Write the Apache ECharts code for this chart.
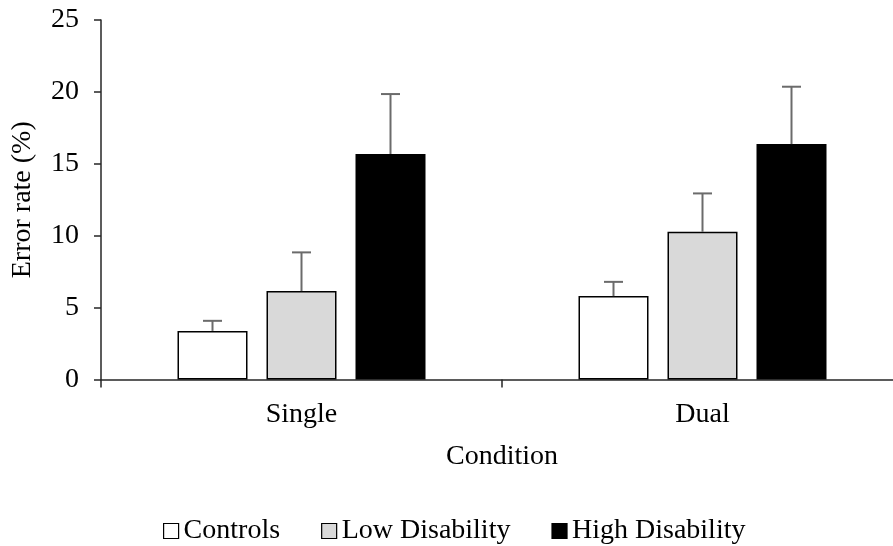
<!DOCTYPE html>
<html>
<head>
<meta charset="utf-8">
<script src="https://cdn.jsdelivr.net/npm/echarts@6/dist/echarts.min.js"></script>
<style>
    html, body {margin: 0; padding: 0; background: #fff;}
    #errorrate {width: 893px; height: 546px;}
</style>
</head>
<body>
<div id="errorrate"></div>
<script>
// data
var categories = ['Single', 'Dual'];
var groups = ['Controls', 'Low Disability', 'High Disability'];
var controls = [3.38, 5.80];
var lowDis = [6.15, 10.27];
var highDis = [15.68, 16.37];
var controlsErr = [0.70, 0.99];
var lowDisErr = [2.69, 2.67];
var highDisErr = [4.17, 3.99];
var yTicks = [0, 5, 10, 15, 20, 25];

var fills = ['#ffffff', '#d9d9d9', '#000000'];
var values = [controls, lowDis, highDis];
var errs = [controlsErr, lowDisErr, highDisErr];

var barW = 70;
var barGapPx = 19;
var fontName = '"Liberation Serif", "Times New Roman", serif';

var myChart = echarts.init(document.getElementById('errorrate'));

var series = [];
// bars
for (var i = 0; i < groups.length; i++) {
    series.push({
        name: groups[i],
        type: 'bar',
        barWidth: barW,
        barGap: (barGapPx / barW * 100) + '%',
        itemStyle: {color: fills[i], borderColor: '#000', borderWidth: 1.5},
        data: values[i]
    });
}
// error bars (upper whisker only)
for (var j = 0; j < groups.length; j++) {
    var errData = [];
    for (var k = 0; k < categories.length; k++) {
        errData.push([k, values[j][k], values[j][k] + errs[j][k]]);
    }
    series.push({
        type: 'custom',
        z: 5,
        silent: true,
        renderItem: (function (idx) {
            return function (params, api) {
                var base = api.coord([api.value(0), api.value(1)]);
                var top = api.coord([api.value(0), api.value(2)]);
                var x = base[0] + (idx - 1) * (barW + barGapPx);
                var style = {stroke: '#6b6b6b', lineWidth: 2};
                return {
                    type: 'group',
                    children: [
                        {type: 'line', shape: {x1: x, y1: base[1], x2: x, y2: top[1]}, style: style},
                        {type: 'line', shape: {x1: x - 9.5, y1: top[1], x2: x + 9.5, y2: top[1]}, style: style}
                    ]
                };
            };
        })(j),
        encode: {x: 0, y: [1, 2]},
        data: errData
    });
}

var option = {
    animation: false,
    textStyle: {fontFamily: fontName, color: '#000'},
    grid: {left: 101, top: 20, width: 802, height: 359.5, outerBoundsMode: 'none'},
    legend: {
        data: groups,
        left: 158,
        top: 512,
        itemWidth: 15,
        itemHeight: 15,
        itemGap: 41,
        icon: 'rect',
        itemStyle: {borderColor: '#000', borderWidth: 1.2},
        textStyle: {fontFamily: fontName, fontSize: 28, color: '#000'}
    },
    xAxis: {
        type: 'category',
        data: categories,
        name: 'Condition',
        nameLocation: 'middle',
        nameGap: 63,
        nameTextStyle: {fontFamily: fontName, fontSize: 28, color: '#000'},
        axisLine: {lineStyle: {color: '#262626', width: 1.5}},
        axisTick: {show: true, length: 8, lineStyle: {color: '#262626', width: 1.5}},
        axisLabel: {fontFamily: fontName, fontSize: 28, color: '#000', margin: 21}
    },
    yAxis: {
        type: 'value',
        min: yTicks[0],
        max: yTicks[yTicks.length - 1],
        interval: yTicks[1] - yTicks[0],
        name: 'Error rate (%)',
        nameLocation: 'middle',
        nameGap: 64,
        nameTextStyle: {fontFamily: fontName, fontSize: 28, color: '#000'},
        axisLine: {show: true, lineStyle: {color: '#262626', width: 1.5}},
        axisTick: {show: true, length: 7, lineStyle: {color: '#262626', width: 1.5}},
        axisLabel: {fontFamily: fontName, fontSize: 28, color: '#000', margin: 22},
        splitLine: {show: false}
    },
    series: series
};

myChart.setOption(option);
</script>
</body>
</html>
